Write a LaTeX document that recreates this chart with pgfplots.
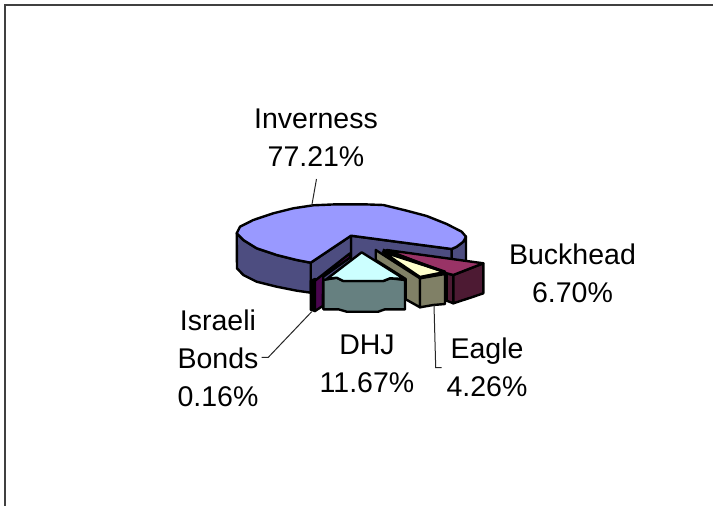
\documentclass[border=0pt]{standalone}
\usepackage{fontspec}
\setmainfont{Liberation Sans}
\usepackage{pgfplots}
\pgfplotsset{compat=1.18}
\definecolor{blueT}{HTML}{9999FF}
\definecolor{blueS}{HTML}{4D4D80}
\definecolor{burgT}{HTML}{993366}
\definecolor{burgS}{HTML}{4D1A33}
\definecolor{creamT}{HTML}{FFFFCC}
\definecolor{creamS}{HTML}{808066}
\definecolor{cyanT}{HTML}{CCFFFF}
\definecolor{cyanS}{HTML}{668080}
\definecolor{purp}{HTML}{4A0650}
\tikzset{
  piece/.style={draw=black,line width=2.4pt,line join=round},
  lead/.style={black!85,line width=1pt},
  lab/.style={align=center,inner sep=0pt,font=\fontsize{28.5}{38}\selectfont},
}
\begin{document}
\begin{tikzpicture}
\begin{axis}[
    scale only axis,
    width=713pt,
    height=506pt,
    xmin=0, xmax=713,
    ymin=0, ymax=506,
    y dir=reverse,
    hide axis,
    no markers,
]
% page and frame
\addplot[draw=none,fill=white] coordinates {(0,0)(713,0)(713,506)(0,506)} -- cycle;
\addplot[black!75,line width=1.6pt] coordinates {(5,506)(5,5)(713,5)};

% Inverness: walls, then top
\addplot[piece,fill=blueS] coordinates {(351,235.7)(451.7,249)(451.7,262)(351,262)} -- cycle;
\addplot[piece,fill=blueS] coordinates {(451.7,249)(456.7,246.7)(463.3,241.7)(466,236.7)(466,264)(451.7,262)} -- cycle;
\addplot[piece,fill=blueS] coordinates {(310.7,262.7)(351,235.7)(351,262)(310.7,292.7)} -- cycle;
\addplot[piece,fill=blueS] coordinates {
    (236.7,233.3)(243.3,240)(256.7,248.3)(276.7,255)(296.7,260)(310.7,262.7)
    (310.7,292.7)(296.7,290.7)(276.7,286.7)(256.7,281.7)(243.3,275)(237,268.3)
} -- cycle;
\addplot[piece,fill=blueT] coordinates {
    (310.7,262.7)(296.7,260)(276.7,255)(256.7,248.3)(243.3,240)(236.7,233.3)
    (240,226.7)(253.3,220)(273.3,213.3)(293.3,208.3)(313.3,205.3)(336.7,204.3)
    (363.3,204.3)(383.3,205)(406.7,210.7)(426.7,216)(446.7,224)(461.7,231.7)
    (466,236.7)(463.3,241.7)(456.7,246.7)(451.7,249)(351,235.7)
} -- cycle;

% Israeli Bonds
\addplot[piece,fill=black] coordinates {(310.7,281)(315,279)(315,311)(310.7,309.7)} -- cycle;
\addplot[piece,fill=purp] coordinates {(315,280.7)(350,253.3)(350,257.7)(323.3,276.7)(322.7,306)(315,311)} -- cycle;

% Buckhead
\addplot[piece,fill=burgS] coordinates {(446.7,273.3)(453.3,275)(453.3,303.3)(446.7,300.7)} -- cycle;
\addplot[piece,fill=burgS] coordinates {(453.3,275)(483.3,263.3)(483.3,293.3)(471.7,297.3)(453.3,303.3)} -- cycle;
\addplot[piece,fill=burgT] coordinates {(386.7,250)(483.3,263.3)(453.3,275)(446.7,273.3)} -- cycle;

% Eagle
\addplot[piece,fill=creamS] coordinates {(375.7,250)(420,278.3)(420,307.3)(405.7,299.3)(405.7,279)(375.7,260)} -- cycle;
\addplot[piece,fill=creamS] coordinates {(420,278.3)(445,274)(445,304)(433.3,305)(420,307.3)} -- cycle;
\addplot[piece,fill=creamT] coordinates {(383,252)(420,277)(445,272)} -- cycle;
\addplot[black,line width=3pt] coordinates {(382.7,250)(445,272)};

% DHJ
\addplot[piece,fill=cyanS] coordinates {
    (323.3,280)(336.7,277.7)(343.3,281)(383.3,281)(390,278.3)(405,280)
    (405,309.3)(385,309.3)(378.3,311.7)(346.7,311.7)(338.3,309.3)(323.3,309.3)
} -- cycle;
\addplot[piece,fill=cyanT] coordinates {
    (361.7,252.3)(404.3,279)(390,278.3)(383.3,281)(343.3,281)(336.7,277.7)(326.7,279)
} -- cycle;

% leader lines
\addplot[lead] coordinates {(316.5,179)(311.7,206)};
\addplot[lead] coordinates {(311.7,311.7)(268.3,357.3)(261.7,357.3)};
\addplot[lead] coordinates {(434,305)(435.7,367.7)(441.7,367.7)};

% labels
\node[lab] at (axis cs:316,138) {Inverness\\77.21\%};
\node[lab] at (axis cs:572.5,273) {Buckhead\\6.70\%};
\node[lab] at (axis cs:487,367.5) {Eagle\\4.26\%};
\node[lab] at (axis cs:367,364) {DHJ\\11.67\%};
\node[lab] at (axis cs:218,358) {Israeli\\Bonds\\0.16\%};
\end{axis}
\end{tikzpicture}
\end{document}
